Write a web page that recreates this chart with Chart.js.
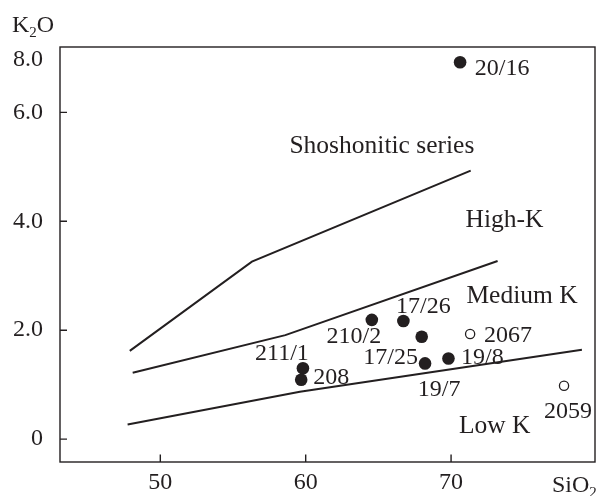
<!DOCTYPE html>
<html>
<head>
<meta charset="utf-8">
<script src="https://cdn.jsdelivr.net/npm/chart.js@4"></script>
<style>
  body { margin: 0; background: #fff; }
  canvas { display: block; }
</style>
</head>
<body>
<canvas id="k2o-chart" width="603" height="496"></canvas>
<script>
// Boundary lines (SiO2 vs K2O)
const shoshoniticSiO2 = [47.9, 56.3, 71.35];
const shoshoniticK2O = [1.62, 3.26, 4.93];
const highKSiO2 = [48.1, 58.6, 73.2];
const highKK2O = [1.22, 1.91, 3.27];
const mediumKSiO2 = [47.75, 59.6, 79.0];
const mediumKK2O = [0.27, 0.87, 1.64];

// Samples
const filledNames = ['20/16', '210/2', '17/26', '17/25', '19/7', '19/8', '211/1', '208'];
const filledSiO2 = [70.62, 64.55, 66.72, 67.98, 68.21, 69.82, 59.81, 59.69];
const filledK2O = [6.92, 2.19, 2.17, 1.88, 1.39, 1.48, 1.30, 1.09];
const openNames = ['2067', '2059'];
const openSiO2 = [71.31, 77.77];
const openK2O = [1.93, 0.98];

// Field names
const fieldNames = ['Shoshonitic series', 'High-K', 'Medium K', 'Low K'];
const fieldSiO2 = [65.24, 73.68, 74.88, 73.0];
const fieldK2O = [5.25, 3.89, 2.50, 0.11];

// Axis ticks
const xTickValues = [50, 60, 70];
const xTickLabels = ['50', '60', '70'];
const yTickValues = [0, 2, 4, 6, 6.96];
const yTickLabels = ['0', '2.0', '4.0', '6.0', '8.0'];

const INK = '#231f20';
const FONT = "'Liberation Serif', 'DejaVu Serif', serif";

// where each sample name sits relative to its point (px: centre x, baseline y)
const labelOffsets = {
  '20/16': [42, 13], '210/2': [-18, 23], '17/26': [20, -8], '17/25': [-31, 27],
  '19/7': [14, 33], '19/8': [34, 5], '211/1': [-21, -8], '208': [30, 4],
  '2067': [38, 8], '2059': [4, 32]
};

const toPoints = (xs, ys) => xs.map((x, i) => ({ x, y: ys[i] }));

const lineSet = (xs, ys) => ({
  type: 'line',
  data: toPoints(xs, ys),
  borderColor: INK,
  borderWidth: 2,
  pointRadius: 0,
  fill: false,
  tension: 0
});

const frameAndText = {
  id: 'frameAndText',
  afterDraw(chart) {
    const ctx = chart.ctx;
    const a = chart.chartArea;
    const xs = chart.scales.x, ys = chart.scales.y;
    ctx.save();
    ctx.strokeStyle = INK;
    ctx.lineWidth = 1.4;
    ctx.strokeRect(a.left, a.top, a.right - a.left, a.bottom - a.top);

    // inward tick marks
    ctx.beginPath();
    xTickValues.forEach(v => {
      const px = xs.getPixelForValue(v);
      ctx.moveTo(px, a.bottom);
      ctx.lineTo(px, a.bottom - 7.5);
    });
    yTickValues.forEach((v, i) => {
      if (Number(yTickLabels[i]) !== v) return;
      const py = ys.getPixelForValue(v);
      ctx.moveTo(a.left, py);
      ctx.lineTo(a.left + 7, py);
    });
    ctx.stroke();

    ctx.fillStyle = INK;
    ctx.textAlign = 'center';
    ctx.textBaseline = 'alphabetic';
    ctx.font = '24px ' + FONT;

    // sample names
    [[3, filledNames], [4, openNames]].forEach(([di, names]) => {
      chart.getDatasetMeta(di).data.forEach((pt, i) => {
        const off = labelOffsets[names[i]];
        ctx.fillText(names[i], pt.x + off[0], pt.y + off[1]);
      });
    });

    // field names
    ctx.font = '25.5px ' + FONT;
    fieldNames.forEach((name, i) => {
      ctx.fillText(name, xs.getPixelForValue(fieldSiO2[i]), ys.getPixelForValue(fieldK2O[i]));
    });

    // axis titles with subscripts
    const subText = (parts, x, y) => {
      ctx.textAlign = 'left';
      parts.forEach(([t, sub]) => {
        ctx.font = (sub ? '15px ' : '24px ') + FONT;
        ctx.fillText(t, x, sub ? y + 5 : y);
        x += ctx.measureText(t).width;
      });
    };
    subText([['K'], ['2', true], ['O']], 12, 32);
    subText([['SiO'], ['2', true]], 552, 492);
    ctx.restore();
  }
};

new Chart(document.getElementById('k2o-chart'), {
  type: 'scatter',
  data: {
    datasets: [
      lineSet(shoshoniticSiO2, shoshoniticK2O),
      lineSet(highKSiO2, highKK2O),
      lineSet(mediumKSiO2, mediumKK2O),
      {
        data: toPoints(filledSiO2, filledK2O),
        pointRadius: 6.3,
        backgroundColor: INK,
        borderColor: INK,
        borderWidth: 0
      },
      {
        data: toPoints(openSiO2, openK2O),
        pointRadius: 4.6,
        backgroundColor: '#fff',
        borderColor: INK,
        borderWidth: 1.3
      }
    ]
  },
  options: {
    responsive: false,
    animation: false,
    devicePixelRatio: 1,
    layout: { padding: { top: 47, right: 8, left: 0, bottom: 0 } },
    plugins: { legend: { display: false }, tooltip: { enabled: false } },
    scales: {
      x: {
        type: 'linear',
        min: 43.1,
        max: 79.9,
        afterBuildTicks: s => { s.ticks = xTickValues.map(v => ({ value: v })); },
        afterFit: s => { s.height = 34; },
        ticks: {
          autoSkip: false,
          maxRotation: 0,
          padding: 6,
          color: INK,
          font: { family: FONT, size: 24 },
          callback: (v, i) => xTickLabels[i]
        },
        grid: { display: false, drawTicks: false },
        border: { display: false }
      },
      y: {
        type: 'linear',
        min: -0.42,
        max: 7.2,
        afterBuildTicks: s => { s.ticks = yTickValues.map(v => ({ value: v })); },
        afterFit: s => { s.width = 60; },
        ticks: {
          autoSkip: false,
          padding: 17,
          color: INK,
          font: { family: FONT, size: 24 },
          callback: (v, i) => yTickLabels[i]
        },
        grid: { display: false, drawTicks: false },
        border: { display: false }
      }
    }
  },
  plugins: [frameAndText]
});
</script>
</body>
</html>
